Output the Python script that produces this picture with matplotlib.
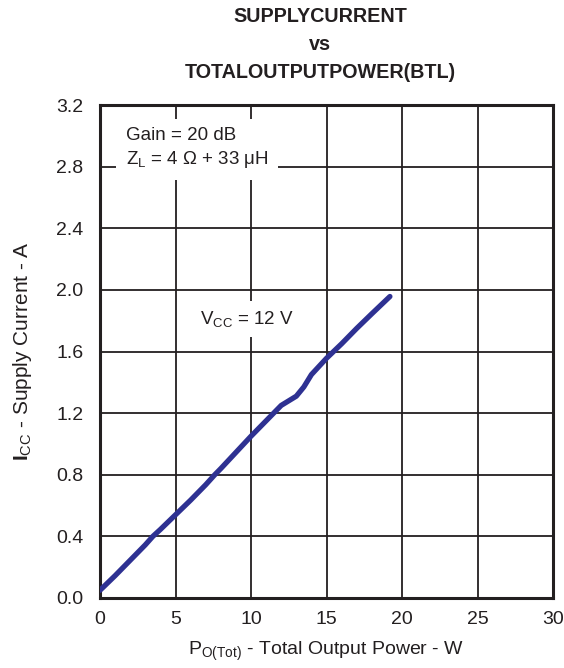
import matplotlib
matplotlib.use("Agg")
import matplotlib.pyplot as plt

plt.rcParams['font.family'] = ['Liberation Sans', 'DejaVu Sans']
plt.rcParams['mathtext.fontset'] = 'custom'
plt.rcParams['mathtext.rm'] = 'Liberation Sans'
plt.rcParams['mathtext.it'] = 'Liberation Sans'
plt.rcParams['mathtext.bf'] = 'Liberation Sans:bold'

power_w = [0, 1, 2, 3, 3.5, 4, 5, 6, 7, 7.6, 8, 9, 10, 11, 12, 13, 13.5, 14, 15, 16, 17, 18, 19.2]
current_a = [0.05, 0.145, 0.245, 0.345, 0.40, 0.445, 0.54, 0.635, 0.735, 0.80, 0.84, 0.945, 1.05,
             1.15, 1.25, 1.31, 1.37, 1.45, 1.556, 1.65, 1.75, 1.845, 1.957]
x_ticks = [0, 5, 10, 15, 20, 25, 30]
y_ticks = [0.0, 0.4, 0.8, 1.2, 1.6, 2.0, 2.4, 2.8, 3.2]

ink = '#231f20'

fig = plt.figure(figsize=(5.64, 6.68), dpi=100)
ax = fig.add_axes([100/564, 1-598/668, 453/564, 493/668])

ax.set_xlim(0, 30)
ax.set_ylim(0, 3.2)
ax.set_xticks(x_ticks)
ax.set_yticks(y_ticks)
ax.set_xticklabels([str(v) for v in x_ticks])
ax.set_yticklabels([f"{v:.1f}" for v in y_ticks])
ax.grid(True, color=ink, linewidth=1.3)
ax.set_axisbelow(True)
ax.tick_params(length=0, labelsize=14, colors=ink)
ax.tick_params(axis='x', pad=9)
ax.tick_params(axis='y', pad=12)
for s in ax.spines.values():
    s.set_color(ink)
    s.set_linewidth(2.2)

ax.plot(power_w, current_a, color='#2e3192', linewidth=3.8, solid_capstyle='round',
        solid_joinstyle='round', zorder=3)

ax.text(1.7, 2.92, 'Gain = 20 dB\n$\\mathregular{Z_L}$ = 4 Ω + 33 μH', fontsize=13.5,
        color=ink, va='center', ha='left', linespacing=1.35,
        bbox=dict(facecolor='white', edgecolor='none', pad=7), zorder=4)
ax.text(6.6, 1.81, '$\\mathregular{V_{CC}}$ = 12 V', fontsize=13.5, color=ink,
        va='center', ha='left',
        bbox=dict(facecolor='white', edgecolor='none', pad=6), zorder=4)

ax.set_xlabel('$\\mathregular{P_{O(Tot)}}$ - Total Output Power - W', fontsize=14,
              color=ink, labelpad=9)
ax.set_ylabel('$\\mathbf{I}_{\\mathregular{CC}}$ - Supply Current - A', fontsize=15,
              color=ink, labelpad=16)

tx = 320/564
fig.text(tx, 1-17/668, 'SUPPLYCURRENT', ha='center', va='center', fontsize=14.2,
         fontweight='bold', color=ink)
fig.text(tx, 1-45/668, 'vs', ha='center', va='center', fontsize=14.2,
         fontweight='bold', color=ink)
fig.text(tx, 1-73/668, 'TOTALOUTPUTPOWER(BTL)', ha='center', va='center', fontsize=14.2,
         fontweight='bold', color=ink)

fig.savefig('out.png', dpi=100)
